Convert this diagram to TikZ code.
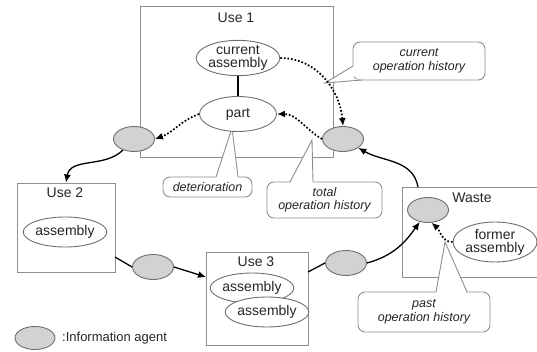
\documentclass[tikz,border=0pt]{standalone}
\usepackage{fontspec}
\setmainfont{Liberation Sans}
\usetikzlibrary{arrows.meta,shapes.geometric}
\definecolor{edge}{HTML}{8E8E8E}
\definecolor{oline}{HTML}{6E6E6E}
\definecolor{agentfill}{HTML}{D2D2D2}
\definecolor{ink}{HTML}{262626}
\begin{document}
\begin{tikzpicture}[x=1pt,y=1pt,
  box/.style={draw=edge, line width=1pt, rectangle, inner sep=0pt},
  title/.style={font=\fontsize{14}{14}\selectfont, text=ink, inner sep=0pt},
  obj/.style={ellipse, draw=oline, fill=white, line width=0.9pt, inner sep=0pt, align=center,
    font=\fontsize{14}{14}\selectfont, text=ink},
  agent/.style={ellipse, draw=oline, fill=agentfill, line width=0.9pt, inner sep=0pt,
    minimum width=41pt, minimum height=25pt},
  note/.style={draw=edge, line width=0.9pt, rounded corners=7pt, fill=white, align=center,
    inner sep=0pt, font=\fontsize{12.5}{13.5}\selectfont\itshape, text=ink},
  ptr/.style={draw=edge, line width=0.9pt},
  conn/.style={line width=1.3pt, black},
  flow/.style={conn, -{Latex[length=8pt,width=7pt]}},
  info/.style={flow, line width=1.7pt, dash pattern=on 1.7pt off 1.9pt}
]
\useasboundingbox (0,0) rectangle (537,351);

% boxes
\node[box, minimum width=193pt, minimum height=151pt] (use1) at (236.5,268.5) {};
\node[box, minimum width=98pt, minimum height=89pt] (use2) at (66,123.5) {};
\node[box, minimum width=102pt, minimum height=93pt] (use3) at (257,52.5) {};
\node[box, minimum width=138pt, minimum height=90pt] (waste) at (471,119) {};
\node[title] (t1) at (236,333) {Use 1};
\node[title] (t2) at (65,158) {Use 2};
\node[title] (t3) at (256,89) {Use 3};
\node[title] (tw) at (472,153) {Waste};

% callouts
\node[note, minimum width=132pt, minimum height=38pt] (nA) at (419,290) {current\\operation history};
\node[note, minimum width=89pt, minimum height=20pt] (nD) at (207.5,164) {deterioration};
\node[note, minimum width=115pt, minimum height=36pt] (nT) at (324.5,151) {total\\operation history};
\node[note, minimum width=132pt, minimum height=40pt] (nP) at (424,39) {past\\operation history};

\coordinate (tipA) at (325,268);
\coordinate (a1) at (353,285);
\coordinate (a2) at (362,271);
\fill[white] (354,285.5) -- (tipA) -- (362.5,272) -- (354,272) -- cycle;
\draw[ptr] (a1) -- (tipA) -- (a2);

\coordinate (tipD) at (232,223);
\coordinate (d1) at (216,174);
\coordinate (d2) at (238,174);
\fill[white] (216,172.5) -- (tipD) -- (238,172.5) -- cycle;
\draw[ptr] (d1) -- (tipD) -- (d2);

\coordinate (tipT) at (312,211);
\coordinate (e1) at (290,169);
\coordinate (e2) at (313,169);
\fill[white] (290,167.5) -- (tipT) -- (313,167.5) -- cycle;
\draw[ptr] (e1) -- (tipT) -- (e2);

\coordinate (tipP) at (445,109);
\coordinate (p1) at (436,59);
\coordinate (p2) at (467,59);
\fill[white] (436,57.5) -- (tipP) -- (467,57.5) -- cycle;
\draw[ptr] (p1) -- (tipP) -- (p2);

% objects
\node[obj, minimum width=78pt, minimum height=33pt] (cur) at (238,293) {current\\[-1pt]assembly};
\node[obj, minimum width=77pt, minimum height=35pt] (part) at (238,237) {part};
\node[obj, minimum width=76pt, minimum height=30pt] (asm2) at (65,119) {assembly};
\node[obj, minimum width=77pt, minimum height=30pt] (asm3a) at (252,63) {assembly};
\node[obj, minimum width=77pt, minimum height=30pt] (asm3b) at (267,39) {assembly};
\node[obj, minimum width=84pt, minimum height=40pt] (former) at (495,109) {former\\[-1pt]assembly};

% information agents
\node[agent] (agL) at (134,212) {};
\node[agent] (agR) at (343,212) {};
\node[agent] (agB1) at (153,84) {};
\node[agent] (agB2) at (346,88) {};
\node[agent] (agW) at (428,141) {};
\node[agent, minimum width=40pt, minimum height=23pt] (agLeg) at (35,13) {};
\node[anchor=west, inner sep=0pt, font=\fontsize{13}{13}\selectfont, text=ink] (legtxt) at (62,13) {:Information agent};

% connectors
\coordinate (c2out) at (115,94);
\coordinate (c3in) at (206,74);
\coordinate (c3out) at (308,79);
\coordinate (wTop) at (418,164);

\draw[conn, line width=1.1pt] (cur.south) -- (part.north);
\draw[info] (cur.east) to[out=0,in=95] (agR.north);
\draw[info] (agR.west) to[out=150,in=0] (part.east);
\draw[info] (part.west) to[out=200,in=20] (agL.east);
\draw[flow] (agL.225) to[out=225,in=80] (use2.north);
\draw[conn] (c2out) -- (agB1.west);
\draw[flow] (agB1.east) -- (c3in);
\draw[conn] (c3out) -- (agB2.west);
\draw[flow] (agB2.east) to[out=15,in=235] (agW.235);
\draw[flow] (wTop) to[out=100,in=-30] (agR.-30);
\draw[info] (former.west) to[out=180,in=-40] (agW.-75);
\end{tikzpicture}
\end{document}
